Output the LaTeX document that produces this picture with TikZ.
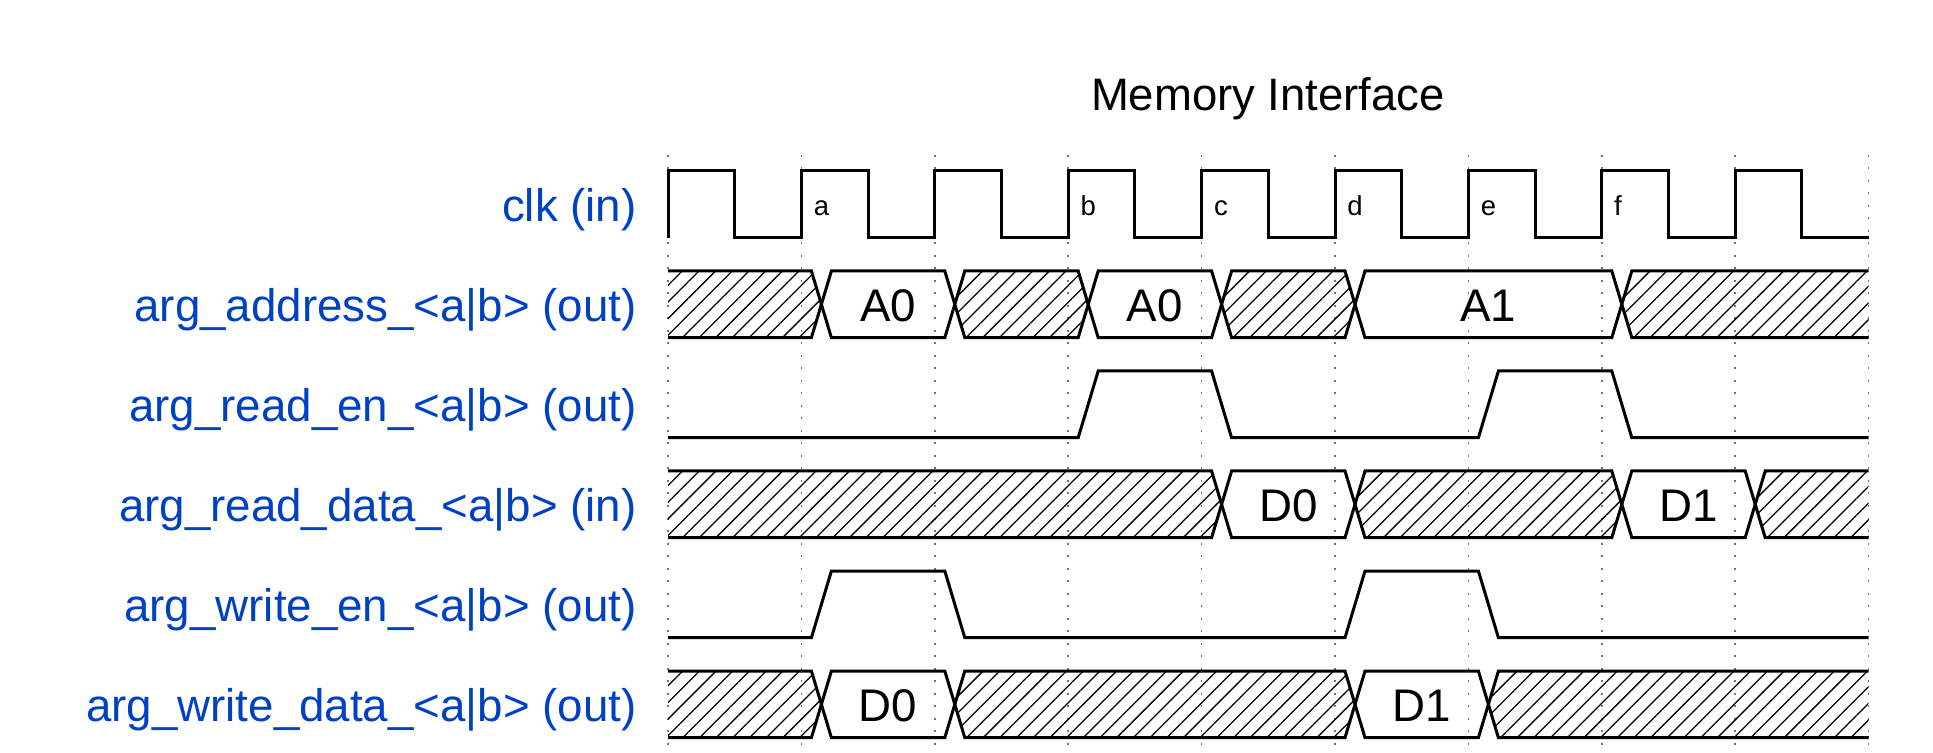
\documentclass[tikz,border=0pt]{standalone}
\usepackage{fontspec}
\setmainfont{Liberation Sans}
\usetikzlibrary{patterns.meta}
\definecolor{lblblue}{HTML}{0041C4}
\def\G#1{(668+133.4*(#1))}
\def\R{1868.6}
% data segments: #1 row index, #2/#3 grid indices, #4 style
\newcommand\firstseg[3]{%
  \draw[wave,#3] (668,{171+100*#1}) -- ({\G{#2}+10},{171+100*#1}) -- ({\G{#2}+20},{204.35+100*#1}) -- ({\G{#2}+10},{237.7+100*#1}) -- (668,{237.7+100*#1});}
\newcommand\midseg[4]{%
  \draw[wave,#4] ({\G{#2}+20},{204.35+100*#1}) -- ({\G{#2}+30},{171+100*#1}) -- ({\G{#3}+10},{171+100*#1}) -- ({\G{#3}+20},{204.35+100*#1}) -- ({\G{#3}+10},{237.7+100*#1}) -- ({\G{#2}+30},{237.7+100*#1}) -- cycle;}
\newcommand\lastseg[3]{%
  \draw[wave,#3] (\R,{171+100*#1}) -- ({\G{#2}+30},{171+100*#1}) -- ({\G{#2}+20},{204.35+100*#1}) -- ({\G{#2}+30},{237.7+100*#1}) -- (\R,{237.7+100*#1});}
\newcommand\datlabel[5]{%
  \node[dat] (#5) at ({(\G{#2}+\G{#3})/2+20},{221.05+100*#1}) {#4};}
\begin{document}
\begin{tikzpicture}[x=0.5pt,y=-0.5pt,
  wave/.style={line width=1.5pt, line join=miter, line cap=butt},
  gridline/.style={black!55, line width=0.75pt, dash pattern=on 1pt off 5.25pt},
  sig/.style={font=\fontsize{22.85pt}{26pt}\selectfont, text=lblblue, anchor=base east, inner sep=0pt},
  dat/.style={font=\fontsize{22.85pt}{26pt}\selectfont, anchor=base, inner sep=0pt},
  clab/.style={font=\fontsize{13.75pt}{16pt}\selectfont, anchor=base west, inner sep=0pt},
  hatch/.style={pattern={Lines[angle=45,distance=5.9pt,line width=0.65pt]}},
  plain/.style={}
]
\useasboundingbox (0,0) rectangle (1933,753);

% title
\node[font=\fontsize{22.75pt}{26pt}\selectfont, anchor=base, inner sep=0pt] (title) at (1268,111) {Memory Interface};

% grid
\foreach \i in {0,...,9} \draw[gridline] ({\G{\i}},155) -- ({\G{\i}},753);

% signal names
\node[sig] (nclk) at (637,221.85) {clk (in)};
\node[sig] (naddr) at (637,321.85) {arg\_address\_<a|b> (out)};
\node[sig] (nren) at (637,421.85) {arg\_read\_en\_<a|b> (out)};
\node[sig] (nrdata) at (637,521.85) {arg\_read\_data\_<a|b> (in)};
\node[sig] (nwen) at (637,621.85) {arg\_write\_en\_<a|b> (out)};
\node[sig] (nwdata) at (637,721.85) {arg\_write\_data\_<a|b> (out)};

% clock
\draw[wave] (668,237.7) \foreach \i in {0,...,8} { -- ({\G{\i}},171) -- ({\G{\i}+66.7},171) -- ({\G{\i}+66.7},237.7) -- ({\G{\i+1}},237.7) };
\node[clab] (ca) at ({\G{1}+12},216) {a};
\node[clab] (cb) at ({\G{3}+12},216) {b};
\node[clab] (cc) at ({\G{4}+12},216) {c};
\node[clab] (cd) at ({\G{5}+12},216) {d};
\node[clab] (ce) at ({\G{6}+12},216) {e};
\node[clab] (cf) at ({\G{7}+12},216) {f};

% address (row 1)
\firstseg{1}{1}{hatch}
\midseg{1}{1}{2}{plain}
\midseg{1}{2}{3}{hatch}
\midseg{1}{3}{4}{plain}
\midseg{1}{4}{5}{hatch}
\midseg{1}{5}{7}{plain}
\lastseg{1}{7}{hatch}
\datlabel{1}{1}{2}{A0}{a0a}
\datlabel{1}{3}{4}{A0}{a0b}
\datlabel{1}{5}{7}{A1}{a1}

% read_en (row 2)
\draw[wave] (668,437.7) -- ({\G{3}+10},437.7) -- ({\G{3}+30},371) -- ({\G{4}+10},371) -- ({\G{4}+30},437.7) -- ({\G{6}+10},437.7) -- ({\G{6}+30},371) -- ({\G{7}+10},371) -- ({\G{7}+30},437.7) -- (\R,437.7);

% read_data (row 3)
\firstseg{3}{4}{hatch}
\midseg{3}{4}{5}{plain}
\midseg{3}{5}{7}{hatch}
\midseg{3}{7}{8}{plain}
\lastseg{3}{8}{hatch}
\datlabel{3}{4}{5}{D0}{rd0}
\datlabel{3}{7}{8}{D1}{rd1}

% write_en (row 4)
\draw[wave] (668,637.7) -- ({\G{1}+10},637.7) -- ({\G{1}+30},571) -- ({\G{2}+10},571) -- ({\G{2}+30},637.7) -- ({\G{5}+10},637.7) -- ({\G{5}+30},571) -- ({\G{6}+10},571) -- ({\G{6}+30},637.7) -- (\R,637.7);

% write_data (row 5)
\firstseg{5}{1}{hatch}
\midseg{5}{1}{2}{plain}
\midseg{5}{2}{5}{hatch}
\midseg{5}{5}{6}{plain}
\lastseg{5}{6}{hatch}
\datlabel{5}{1}{2}{D0}{wd0}
\datlabel{5}{5}{6}{D1}{wd1}
\end{tikzpicture}
\end{document}
